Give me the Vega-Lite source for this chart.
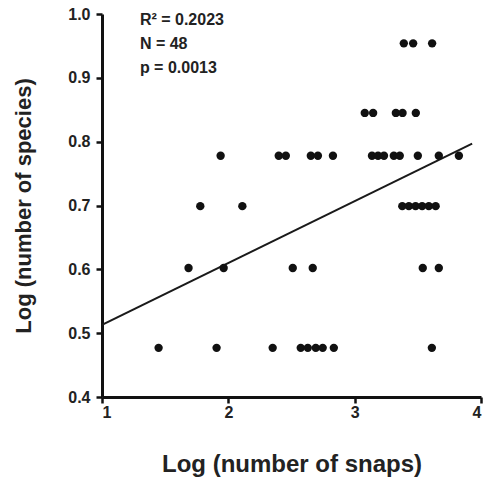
{
  "$schema": "https://vega.github.io/schema/vega-lite/v6.json",
  "width": 379,
  "height": 383,
  "autosize": {"type": "none"},
  "padding": {"left": 102, "top": 14, "right": 4, "bottom": 81},
  "background": "white",
  "config": {"view": {"stroke": null}, "font": "Liberation Sans"},
  "datasets": {
    "points": [
      {"snaps": 1.448, "species": 0.477}, {"snaps": 1.907, "species": 0.477}, {"snaps": 2.351, "species": 0.477},
      {"snaps": 2.573, "species": 0.477}, {"snaps": 2.629, "species": 0.477}, {"snaps": 2.692, "species": 0.477},
      {"snaps": 2.747, "species": 0.477}, {"snaps": 2.835, "species": 0.477}, {"snaps": 3.611, "species": 0.477},
      {"snaps": 1.685, "species": 0.602}, {"snaps": 1.963, "species": 0.602}, {"snaps": 2.51, "species": 0.602},
      {"snaps": 2.668, "species": 0.602}, {"snaps": 3.539, "species": 0.602}, {"snaps": 3.666, "species": 0.602},
      {"snaps": 1.778, "species": 0.699}, {"snaps": 2.111, "species": 0.699}, {"snaps": 3.377, "species": 0.699},
      {"snaps": 3.429, "species": 0.699}, {"snaps": 3.482, "species": 0.699}, {"snaps": 3.534, "species": 0.699},
      {"snaps": 3.587, "species": 0.699}, {"snaps": 3.641, "species": 0.699},
      {"snaps": 1.939, "species": 0.778}, {"snaps": 2.399, "species": 0.778}, {"snaps": 2.455, "species": 0.778},
      {"snaps": 2.653, "species": 0.778}, {"snaps": 2.709, "species": 0.778}, {"snaps": 2.828, "species": 0.778},
      {"snaps": 3.137, "species": 0.778}, {"snaps": 3.185, "species": 0.778}, {"snaps": 3.232, "species": 0.778},
      {"snaps": 3.31, "species": 0.778}, {"snaps": 3.357, "species": 0.778}, {"snaps": 3.5, "species": 0.778},
      {"snaps": 3.666, "species": 0.778}, {"snaps": 3.825, "species": 0.778},
      {"snaps": 3.08, "species": 0.845}, {"snaps": 3.146, "species": 0.845}, {"snaps": 3.326, "species": 0.845},
      {"snaps": 3.379, "species": 0.845}, {"snaps": 3.484, "species": 0.845},
      {"snaps": 3.389, "species": 0.954}, {"snaps": 3.463, "species": 0.954}, {"snaps": 3.613, "species": 0.954}
    ],
    "fit": [
      {"snaps": 1.0, "species": 0.513},
      {"snaps": 3.93, "species": 0.797}
    ],
    "stats": [
      {"snaps": 1.3, "species": 0.991, "label": "R² = 0.2023"},
      {"snaps": 1.3, "species": 0.953, "label": "N = 48"},
      {"snaps": 1.3, "species": 0.916, "label": "p = 0.0013"}
    ]
  },
  "layer": [
    {
      "data": {"name": "fit"},
      "mark": {"type": "line", "color": "#1a1a1a", "strokeWidth": 2, "clip": true},
      "encoding": {
        "x": {"field": "snaps", "type": "quantitative",
              "scale": {"domain": [1, 4], "nice": false, "zero": false},
              "axis": {"title": "Log (number of snaps)", "values": [1, 2, 3, 4], "format": "d",
                       "grid": false, "domainColor": "#111", "domainWidth": 3, "tickColor": "#111",
                       "tickWidth": 2.5, "tickSize": 6, "labelFontSize": 16, "labelFontWeight": "bold",
                       "labelColor": "#222", "labelPadding": 1, "titleFontSize": 24, "titleFontWeight": "bold",
                       "titleColor": "#222", "titlePadding": 32}},
        "y": {"field": "species", "type": "quantitative",
              "scale": {"domain": [0.4, 1.0], "nice": false, "zero": false},
              "axis": {"title": "Log (number of species)", "values": [0.4, 0.5, 0.6, 0.7, 0.8, 0.9, 1.0], "format": ".1f",
                       "grid": false, "domainColor": "#111", "domainWidth": 3, "tickColor": "#111",
                       "tickWidth": 2.5, "tickSize": 6, "labelFontSize": 16, "labelFontWeight": "bold",
                       "labelColor": "#222", "labelPadding": 6, "titleFontSize": 22, "titleFontWeight": "bold",
                       "titleColor": "#222", "titlePadding": 32}}
      }
    },
    {
      "data": {"name": "points"},
      "mark": {"type": "circle", "size": 70, "color": "#111", "opacity": 1},
      "encoding": {
        "x": {"field": "snaps", "type": "quantitative"},
        "y": {"field": "species", "type": "quantitative"}
      }
    },
    {
      "data": {"name": "stats"},
      "mark": {"type": "text", "align": "left", "baseline": "middle", "fontSize": 16, "fontWeight": "bold", "color": "#222"},
      "encoding": {
        "x": {"field": "snaps", "type": "quantitative"},
        "y": {"field": "species", "type": "quantitative"},
        "text": {"field": "label"}
      }
    }
  ]
}
